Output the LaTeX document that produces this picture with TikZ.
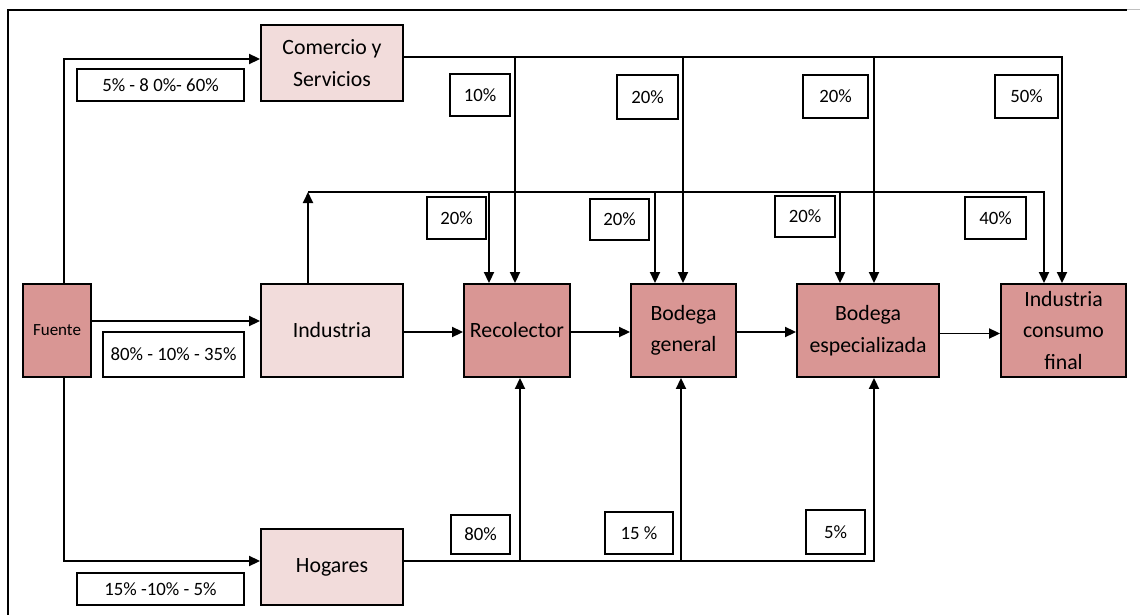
\documentclass[tikz,border=0pt]{standalone}
\usepackage{fontspec}
\setmainfont{Carlito}
\usetikzlibrary{arrows.meta}
\definecolor{boxdark}{HTML}{D99694}
\definecolor{boxlight}{HTML}{F2DCDB}
\begin{document}
\begin{tikzpicture}[x=1pt,y=-1pt,
  base/.style={draw=black, line width=1.9pt, inner sep=0pt, align=center, text=black},
  darkbox/.style={base, fill=boxdark, font=\fontsize{21.8}{31.5}\selectfont},
  lightbox/.style={base, fill=boxlight, font=\fontsize{21.8}{31.5}\selectfont},
  tag/.style={base, fill=white, line width=1.6pt, font=\fontsize{18.8}{22}\selectfont},
  flow/.style={line width=1.9pt, -{Triangle[length=11pt,width=10pt]}},
  wire/.style={line width=1.9pt}]
\useasboundingbox (0,0) rectangle (1140,615);

% frame
\draw[line width=1.6pt] (8,615) -- (8,10) -- (1127,10);
\draw[gray!50, line width=1pt] (1127,10) -- (1140,10);

% sources and sectors
\node[darkbox, minimum width=68pt, minimum height=93pt, font=\fontsize{17}{22}\selectfont] (fue) at (57,330.5) {Fuente};
\node[lightbox, minimum width=142pt, minimum height=76pt] (com) at (332,63) {Comercio y\\Servicios};
\node[lightbox, minimum width=142pt, minimum height=93pt] (ind) at (332,330.5) {Industria};
\node[lightbox, minimum width=142pt, minimum height=76pt] (hog) at (332,567) {Hogares};

% chain
\node[darkbox, minimum width=106pt, minimum height=93pt] (rec) at (517,330.5) {Recolector};
\node[darkbox, minimum width=105pt, minimum height=93pt] (bg) at (683.5,330.5) {Bodega\\general};
\node[darkbox, minimum width=142pt, minimum height=93pt] (be) at (868,330.5) {Bodega\\especializada};
\node[darkbox, minimum width=125pt, minimum height=93pt] (icf) at (1063.5,330.5) {Industria\\consumo\\final};

% percentage tags
\node[tag, minimum width=167pt, minimum height=32pt] (l1) at (160.5,85) {5\% - 8 0\%- 60\%};
\node[tag, minimum width=141pt, minimum height=45pt] (l2) at (173.5,354.5) {80\% - 10\% - 35\%};
\node[tag, minimum width=167pt, minimum height=32pt] (l3) at (160.5,589) {15\% -10\% - 5\%};

\node[tag, minimum width=60pt, minimum height=42pt] (t1) at (480,95) {10\%};
\node[tag, minimum width=61pt, minimum height=44pt] (t2) at (647.5,97) {20\%};
\node[tag, minimum width=65pt, minimum height=43pt] (t3) at (835.5,96.5) {20\%};
\node[tag, minimum width=63pt, minimum height=43pt] (t4) at (1026.5,96.5) {50\%};

\node[tag, minimum width=59pt, minimum height=42pt] (m1) at (456.5,218) {20\%};
\node[tag, minimum width=59pt, minimum height=41pt] (m2) at (619.5,219.5) {20\%};
\node[tag, minimum width=60pt, minimum height=41pt] (m3) at (805,216.5) {20\%};
\node[tag, minimum width=61pt, minimum height=42pt] (m4) at (995.5,218) {40\%};

\node[tag, minimum width=59pt, minimum height=39pt] (b1) at (480.5,534.5) {80\%};
\node[tag, minimum width=68pt, minimum height=42pt] (b2) at (639,533) {15 \%};
\node[tag, minimum width=59pt, minimum height=44pt] (b3) at (835.5,532) {5\%};

% source to sectors
\draw[flow] ([xshift=7pt]fue.north) |- ([yshift=4pt]com.west);
\draw[flow] ([yshift=9.5pt]fue.east) -- ([yshift=9.5pt]ind.west);
\draw[flow] ([xshift=7pt]fue.south) |- ([yshift=6pt]hog.west);

% main chain
\draw[flow] ([yshift=-1.5pt]ind.east) -- ([yshift=-1.5pt]rec.west);
\draw[flow] ([yshift=-1.5pt]rec.east) -- ([yshift=-1.5pt]bg.west);
\draw[flow] ([yshift=-1.5pt]bg.east) -- ([yshift=-1.5pt]be.west);
\draw[flow] ([yshift=-3pt]be.east) -- ([yshift=-3pt]icf.west);

% industry distribution line
\coordinate (ibus) at (308,192);
\draw[flow] (ind.north -| ibus) -- (ibus);
\draw[flow] (ibus) -| ([xshift=-19.5pt]icf.north);
\foreach \n/\dx in {rec/-28, bg/-28.5, be/-28} {
  \coordinate (t) at ([xshift=\dx pt]\n.north);
  \draw[flow] (t |- ibus) -- (t);
}

% commerce distribution line
\coordinate (cbus) at ([yshift=6pt]com.east);
\draw[flow] (cbus) -| ([xshift=-1.5pt]icf.north);
\foreach \n/\dx in {rec/-2, bg/-0.5, be/6} {
  \coordinate (t) at ([xshift=\dx pt]\n.north);
  \draw[flow] (t |- cbus) -- (t);
}

% household distribution line
\coordinate (hbus) at ([yshift=6pt]hog.east);
\draw[flow] (hbus) -| ([xshift=6pt]be.south);
\foreach \n/\dx in {rec/3, bg/-2.5} {
  \coordinate (t) at ([xshift=\dx pt]\n.south);
  \draw[flow] (t |- hbus) -- (t);
}
\end{tikzpicture}
\end{document}
